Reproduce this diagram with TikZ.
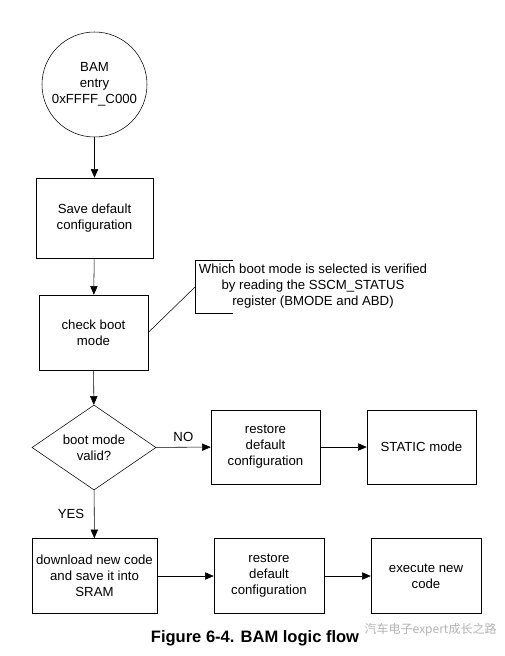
\documentclass[tikz,border=0pt]{standalone}
\usepackage{fontspec}
\setmainfont{Liberation Sans}
\newfontfamily\cjk{Noto Sans CJK SC}
\usetikzlibrary{shapes.geometric,arrows.meta}

\begin{document}
\begin{tikzpicture}[x=0.75pt,y=0.75pt,yscale=-1,xscale=1,
  txt/.style={font=\fontsize{9.9}{12}\selectfont, align=center},
  box/.style={draw, txt, inner sep=0pt, minimum width=84pt, minimum height=56pt},
  flow/.style={-{Triangle[length=6.5pt,width=5.5pt]}}]
\useasboundingbox (0,0) rectangle (504,656);

%Shape: Circle [entry]
\node [draw, circle, txt, inner sep=0pt, minimum size=78.75pt] (entry) at (94.5,84.5) {BAM\\entry\\0xFFFF\_C000};
%Shape: Rectangle [save]
\node [box, minimum width=87.75pt, minimum height=60pt] (save) at (94.5,218) {Save default\\configuration};
%Shape: Rectangle [check]
\node [box, minimum width=81.75pt, minimum height=56.25pt] (check) at (93.5,332.5) {check boot\\mode};
%Shape: Diamond [valid]
\node [draw, diamond, inner sep=0pt, minimum width=93pt, minimum height=63.75pt] (valid) at (94,447.5) {};
\node [txt] (validtxt) at (valid) {boot mode\\valid?};
%Shape: Rectangle [restore1]
\node [box, minimum width=81.75pt, minimum height=55.5pt] (restore1) at (265.5,447) {restore\\default\\configuration};
%Shape: Rectangle [static]
\node [box, minimum width=81.75pt, minimum height=55.5pt] (static) at (421.5,447) {STATIC mode};
%Shape: Rectangle [download]
\node [box, minimum width=93.75pt, minimum height=56.25pt] (download) at (94.5,576) {download new code\\and save it into\\SRAM};
%Shape: Rectangle [restore2]
\node [box, minimum width=82.5pt, minimum height=56.25pt] (restore2) at (269,576) {restore\\default\\configuration};
%Shape: Rectangle [execute]
\node [box, minimum width=82.5pt, minimum height=56.25pt] (execute) at (426,576) {execute new\\code};

%Annotation
\node [txt] (note) at (313,286) {Which boot mode is selected is verified\\by reading the SSCM\_STATUS\\register (BMODE and ABD)};
\coordinate (brk) at (195,287);
\draw (233,260) -- (195,260) -- (195,313) -- (233,313);
\draw (check.east) -- (brk);

%Connectors
\draw [flow] (entry) -- (save);
\draw [flow] (save) -- (check);
\draw [flow] (check) -- (valid);
\draw [flow] (valid) -- node [txt, above, yshift=1pt] {NO} (restore1);
\draw [flow] (restore1) -- (static);
\draw [flow] (valid) -- (download);
\node [txt] (yes) at (71,514) {YES};
\draw [flow] (download) -- (restore2);
\draw [flow] (restore2) -- (execute);

%Caption
\node [font=\bfseries\fontsize{12.4}{14}\selectfont] (caption) at (255,638) {Figure 6-4. BAM logic flow};
\node [font=\cjk\fontsize{9}{11}\selectfont, text=black!30, anchor=west] (mark) at (360,630) {汽车电子expert成长之路};
\end{tikzpicture}
\end{document}
